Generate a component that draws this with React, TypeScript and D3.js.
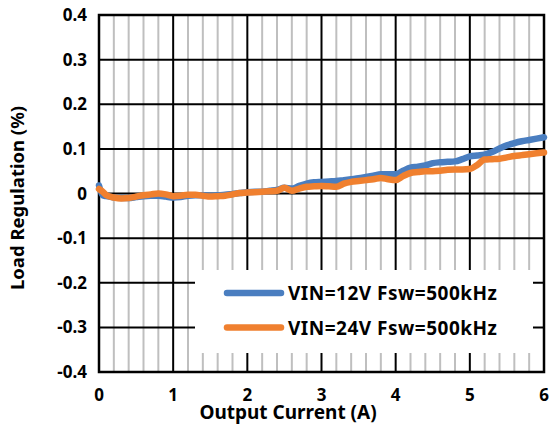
import React, { useEffect, useRef } from "react";
import * as d3 from "d3";

const currents = [
  0, 0.05, 0.1, 0.2, 0.3, 0.4, 0.5, 0.6, 0.7, 0.8, 0.9, 1.0, 1.1, 1.2, 1.3, 1.4, 1.5, 1.6, 1.7, 1.8, 1.9,
  2.0, 2.1, 2.2, 2.3, 2.4, 2.5, 2.6, 2.7, 2.8, 2.9, 3.0, 3.1, 3.2, 3.3, 3.4, 3.5, 3.6, 3.7, 3.8, 3.9,
  4.0, 4.1, 4.2, 4.3, 4.4, 4.5, 4.6, 4.7, 4.8, 4.9, 5.0, 5.1, 5.2, 5.3, 5.4, 5.5, 5.6, 5.7, 5.8, 5.9, 6.0,
];

const vin12 = [
  0.018, -0.004, -0.006, -0.009, -0.01, -0.01, -0.008, -0.006, -0.005, -0.005, -0.007, -0.009, -0.008,
  -0.005, -0.004, -0.004, -0.005, -0.004, -0.003, -0.001, 0.001, 0.003, 0.004, 0.004, 0.006, 0.008,
  0.013, 0.011, 0.017, 0.022, 0.025, 0.026, 0.027, 0.028, 0.03, 0.032, 0.034, 0.037, 0.04, 0.043,
  0.043, 0.043, 0.051, 0.058, 0.06, 0.063, 0.068, 0.07, 0.071, 0.072, 0.077, 0.083, 0.085, 0.087,
  0.093, 0.101, 0.108, 0.113, 0.117, 0.12, 0.123, 0.126,
];

const vin24 = [
  0.01, 0.004, -0.004, -0.009, -0.011, -0.01, -0.007, -0.004, -0.002, 0.0, -0.002, -0.006, -0.005,
  -0.003, -0.003, -0.005, -0.007, -0.006, -0.005, -0.002, 0.001, 0.002, 0.003, 0.004, 0.005, 0.006,
  0.013, 0.006, 0.011, 0.015, 0.016, 0.017, 0.016, 0.015, 0.022, 0.026, 0.028, 0.03, 0.032, 0.035,
  0.032, 0.03, 0.039, 0.046, 0.048, 0.05, 0.05, 0.051, 0.053, 0.054, 0.054, 0.055, 0.064, 0.076,
  0.077, 0.078, 0.081, 0.084, 0.086, 0.088, 0.09, 0.092,
];

const seriesNames = ["VIN=12V Fsw=500kHz", "VIN=24V Fsw=500kHz"];
const seriesColors = ["#4A7EC0", "#F0802F"];
const xTicks = [0, 1, 2, 3, 4, 5, 6];
const yTicks = [0.4, 0.3, 0.2, 0.1, 0, -0.1, -0.2, -0.3, -0.4];

const App = () => {
  const ref = useRef<SVGSVGElement | null>(null);

  useEffect(() => {
    if (!ref.current) return;
    const svg = d3.select(ref.current);
    svg.selectAll("*").remove();

    const left = 99;
    const right = 544;
    const top = 15;
    const bottom = 372;
    const font = "'Noto Sans', 'Open Sans', sans-serif";

    const x = d3.scaleLinear().domain([0, 6]).range([left, right]);
    const y = d3.scaleLinear().domain([-0.4, 0.4]).range([bottom, top]);

    // minor vertical grid every 0.2 A
    const minor = d3.range(0, 6.001, 0.2).filter((v) => Math.abs(v - Math.round(v)) > 1e-6);
    svg
      .append("g")
      .selectAll("line")
      .data(minor)
      .join("line")
      .attr("x1", (d) => x(d))
      .attr("x2", (d) => x(d))
      .attr("y1", top)
      .attr("y2", bottom)
      .attr("stroke", "#bfbfbf")
      .attr("stroke-width", 2);

    svg
      .append("g")
      .selectAll("line")
      .data(yTicks)
      .join("line")
      .attr("x1", left)
      .attr("x2", right)
      .attr("y1", (d) => y(d))
      .attr("y2", (d) => y(d))
      .attr("stroke", "#000")
      .attr("stroke-width", 2);

    svg
      .append("g")
      .selectAll("line")
      .data(xTicks)
      .join("line")
      .attr("x1", (d) => x(d))
      .attr("x2", (d) => x(d))
      .attr("y1", top)
      .attr("y2", bottom)
      .attr("stroke", "#000")
      .attr("stroke-width", 2);

    svg
      .append("rect")
      .attr("x", left)
      .attr("y", top)
      .attr("width", right - left)
      .attr("height", bottom - top)
      .attr("fill", "none")
      .attr("stroke", "#000")
      .attr("stroke-width", 2.5);

    const line = d3
      .line<number>()
      .x((_, i) => x(currents[i]))
      .y((d) => y(d))
      .curve(d3.curveMonotoneX);

    [vin12, vin24].forEach((vals, i) => {
      svg
        .append("path")
        .datum(vals)
        .attr("d", line)
        .attr("fill", "none")
        .attr("stroke", seriesColors[i])
        .attr("stroke-width", 6.5)
        .attr("stroke-linejoin", "round")
        .attr("stroke-linecap", "round");
    });

    // legend
    const lg = svg.append("g");
    lg.append("rect")
      .attr("x", 195)
      .attr("y", 270)
      .attr("width", 338)
      .attr("height", 83)
      .attr("fill", "#fff");
    seriesNames.forEach((name, i) => {
      const ly = 293 + i * 34.5;
      lg.append("line")
        .attr("x1", 227)
        .attr("x2", 281)
        .attr("y1", ly)
        .attr("y2", ly)
        .attr("stroke", seriesColors[i])
        .attr("stroke-width", 6.5)
        .attr("stroke-linecap", "round");
      lg.append("text")
        .attr("x", 288)
        .attr("y", ly + 7)
        .attr("font-family", font)
        .attr("font-weight", "bold")
        .attr("font-size", 19)
        .attr("letter-spacing", 0.5)
        .attr("fill", "#000")
        .text(name);
    });

    // tick labels
    svg
      .append("g")
      .selectAll("text")
      .data(yTicks)
      .join("text")
      .attr("x", 87)
      .attr("y", (d) => y(d) + 6)
      .attr("text-anchor", "end")
      .attr("font-family", font)
      .attr("font-weight", "bold")
      .attr("font-size", 17)
      .text((d) => (d === 0 ? "0" : d.toFixed(1)));

    svg
      .append("g")
      .selectAll("text")
      .data(xTicks)
      .join("text")
      .attr("x", (d) => x(d))
      .attr("y", 401)
      .attr("text-anchor", "middle")
      .attr("font-family", font)
      .attr("font-weight", "bold")
      .attr("font-size", 17)
      .text((d) => String(d));

    svg
      .append("text")
      .attr("x", 288)
      .attr("y", 419)
      .attr("text-anchor", "middle")
      .attr("font-family", font)
      .attr("font-weight", "bold")
      .attr("font-size", 19)
      .text("Output Current (A)");

    svg
      .append("text")
      .attr("transform", "translate(24,198) rotate(-90)")
      .attr("text-anchor", "middle")
      .attr("font-family", font)
      .attr("font-weight", "bold")
      .attr("font-size", 18.5)
      .text("Load Regulation (%)");
  }, []);

  return (
    <svg
      ref={ref}
      width={550}
      height={428}
      style={{ position: "absolute", left: 0, top: 0, background: "#fff" }}
    />
  );
};

export default App;
